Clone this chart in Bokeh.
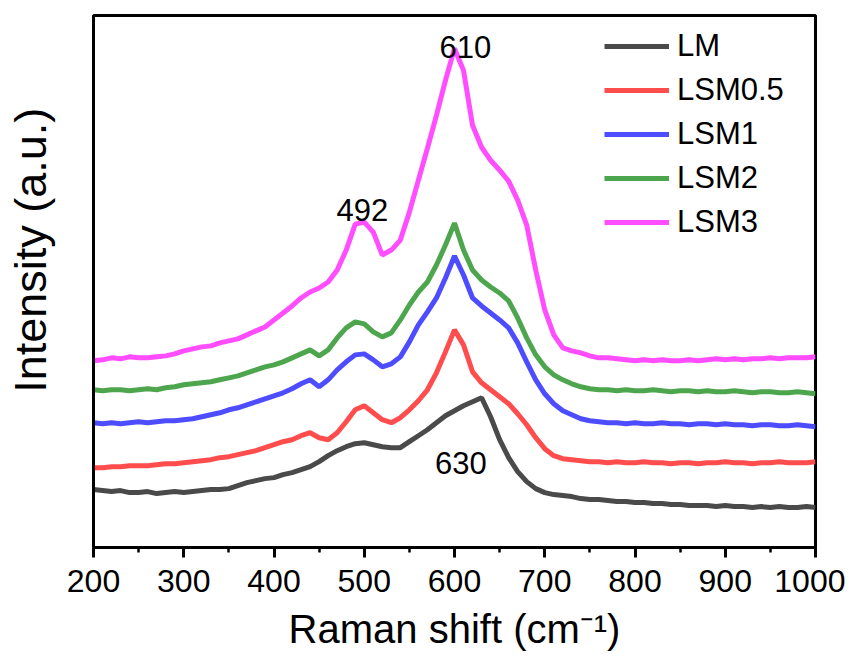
from bokeh.plotting import figure
from bokeh.models import FixedTicker, Range1d
from bokeh.core.properties import value
from bokeh.embed import file_html
from bokeh.resources import INLINE

# Raman shift sampling (cm^-1)
shift = list(range(200, 1001, 10))

# Intensities (a.u., stacked/offset as in the figure)
LM = [58, 57, 56, 57, 55, 55, 56, 54, 55, 56, 55, 56, 57, 58, 58, 59, 62, 65, 67, 69,
      70, 73, 75, 78, 81, 86, 92, 97, 101, 104, 105, 103, 101, 100, 100, 106, 112, 118, 125, 132,
      137, 142, 146, 150, 131, 108, 90, 76, 66, 59, 55, 53, 52, 51, 49, 48, 48, 47, 46, 46,
      45, 45, 44, 44, 43, 43, 42, 42, 42, 41, 42, 41, 41, 40, 41, 40, 41, 40, 40, 41, 40]
LSM05 = [80, 80, 81, 81, 82, 82, 82, 83, 84, 84, 85, 86, 87, 88, 90, 91, 93, 95, 97, 100,
         103, 106, 108, 112, 115, 110, 108, 115, 126, 138, 142, 135, 128, 125, 130, 138, 147, 158, 175, 196,
         218, 203, 176, 165, 158, 151, 144, 134, 123, 110, 99, 92, 89, 88, 87, 86, 86, 85, 86, 85,
         85, 86, 85, 85, 84, 85, 85, 84, 85, 85, 86, 85, 85, 84, 85, 85, 86, 85, 85, 85, 86]
LSM1 = [125, 124, 125, 124, 125, 126, 125, 126, 127, 127, 128, 129, 131, 133, 135, 138, 140, 143, 146, 149,
        152, 155, 159, 164, 168, 161, 168, 178, 186, 193, 194, 188, 181, 184, 191, 206, 223, 236, 250, 270,
        292, 273, 250, 242, 235, 228, 220, 205, 186, 168, 154, 144, 137, 133, 129, 127, 126, 125, 125, 124,
        125, 124, 124, 125, 124, 124, 123, 124, 124, 123, 124, 123, 123, 122, 123, 123, 122, 122, 123, 122, 121]
LSM2 = [158, 157, 158, 158, 157, 158, 159, 158, 160, 161, 163, 164, 165, 166, 168, 170, 172, 175, 178, 181,
        183, 186, 190, 194, 198, 192, 198, 210, 220, 226, 224, 216, 211, 215, 228, 243, 256, 266, 283, 303,
        325, 298, 278, 268, 261, 255, 247, 230, 210, 193, 181, 173, 168, 164, 161, 159, 158, 158, 157, 158,
        157, 157, 158, 157, 156, 157, 157, 156, 157, 156, 156, 157, 156, 155, 156, 156, 155, 155, 156, 155, 154]
LSM3 = [187, 188, 190, 189, 191, 190, 190, 191, 192, 194, 197, 199, 201, 202, 205, 207, 209, 213, 217, 221,
        228, 235, 242, 250, 256, 260, 266, 278, 298, 324, 326, 316, 293, 298, 308, 336, 368, 400, 433, 468,
        500, 478, 423, 401, 388, 378, 367, 348, 323, 278, 238, 213, 200, 197, 195, 192, 190, 190, 189, 188,
        187, 188, 187, 188, 187, 187, 188, 187, 188, 189, 188, 189, 188, 189, 189, 190, 189, 190, 190, 190, 191]

series_names = ["LM", "LSM0.5", "LSM1", "LSM2", "LSM3"]
series_values = [LM, LSM05, LSM1, LSM2, LSM3]
series_colors = ["#4a4a4a", "#ff4d4d", "#4d4dff", "#4da64d", "#ff4dff"]

x_ticks = [200, 300, 400, 500, 600, 700, 800, 900, 1000]
x_minor = [250, 350, 450, 550, 650, 750, 850, 950]

peak_x = [612, 498, 607]
peak_y = [501, 338, 85]
peak_text = ["610", "492", "630"]

FONT = "Liberation Sans, Arial, sans-serif"

p = figure(width=845, height=653, output_backend="svg", toolbar_location=None,
           x_range=Range1d(200, 1000), y_range=Range1d(0, 533),
           min_border_left=93, min_border_right=30, min_border_top=15, min_border_bottom=105)
p.background_fill_color = "white"
p.border_fill_color = "white"
p.grid.visible = False
p.outline_line_color = "black"
p.outline_line_width = 3

for name, vals, col in zip(series_names, series_values, series_colors):
    p.line(shift, vals, line_color=col, line_width=5, legend_label=name)

p.text(x=peak_x, y=peak_y, text=peak_text, text_font=value(FONT), text_font_size="31px",
       text_align="center", text_baseline="alphabetic", text_color="black")

xa = p.xaxis[0]
xa.ticker = FixedTicker(ticks=x_ticks, minor_ticks=x_minor)
xa.axis_line_width = 3
xa.axis_line_color = "black"
xa.major_tick_line_width = 3
xa.major_tick_out = 10
xa.major_tick_in = 0
xa.minor_tick_line_width = 2.5
xa.minor_tick_out = 5
xa.minor_tick_in = 0
xa.major_label_text_font = FONT
xa.major_label_text_font_size = "32px"
xa.major_label_text_color = "black"
xa.major_label_standoff = 12
xa.axis_label = "Raman shift (cm\u207b\u00b9)"
xa.axis_label_text_font = FONT
xa.axis_label_text_font_size = "40px"
xa.axis_label_text_font_style = "normal"
xa.axis_label_text_color = "black"
xa.axis_label_standoff = 12

ya = p.yaxis[0]
ya.ticker = FixedTicker(ticks=[])
ya.axis_line_width = 3
ya.major_tick_line_color = None
ya.minor_tick_line_color = None
ya.major_label_text_color = None
ya.axis_label = "\u00a0" * 5 + "Intensity (a.u.)"
ya.axis_label_text_font = FONT
ya.axis_label_text_font_size = "45px"
ya.axis_label_text_font_style = "normal"
ya.axis_label_text_color = "black"
ya.axis_label_standoff = 38

lg = p.legend[0]
lg.location = (511, 305)
lg.border_line_color = None
lg.background_fill_alpha = 0
lg.padding = 10
lg.margin = 0
lg.spacing = 4
lg.glyph_width = 65
lg.glyph_height = 40
lg.label_height = 40
lg.label_standoff = 8
lg.label_text_font = FONT
lg.label_text_font_size = "31px"
lg.label_text_color = "black"

open("out.html", "w").write(file_html(p, INLINE))
